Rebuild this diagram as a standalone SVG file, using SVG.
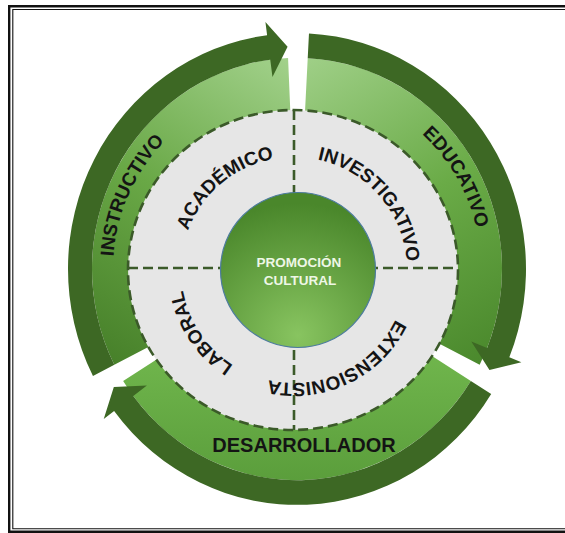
<svg xmlns="http://www.w3.org/2000/svg" xmlns:xlink="http://www.w3.org/1999/xlink" width="565" height="533" viewBox="0 0 565 533">
  <style>
    .dark { fill: #3d6824; }
    .lbl { font-family: "Liberation Sans", Arial, sans-serif; font-weight: bold; fill: #141414; }
    .ring-lbl { font-size: 19px; }
    .dash { fill: none; stroke: #3b5a29; stroke-width: 2.6; stroke-dasharray: 10 5; }
  </style>
  <defs>
    <linearGradient id="gInst" gradientUnits="userSpaceOnUse" x1="-10" y1="-205" x2="-190" y2="95">
      <stop offset="0" stop-color="#a2d18b"/>
      <stop offset="0.5" stop-color="#69a846"/>
      <stop offset="1" stop-color="#467f29"/>
    </linearGradient>
    <linearGradient id="gEdu" gradientUnits="userSpaceOnUse" x1="10" y1="-205" x2="185" y2="95">
      <stop offset="0" stop-color="#9fcf87"/>
      <stop offset="0.5" stop-color="#6aab47"/>
      <stop offset="1" stop-color="#4a882c"/>
    </linearGradient>
    <linearGradient id="gDes" gradientUnits="userSpaceOnUse" x1="0" y1="70" x2="0" y2="210">
      <stop offset="0" stop-color="#72b84e"/>
      <stop offset="1" stop-color="#5a9d3b"/>
    </linearGradient>
    <radialGradient id="gCenter" cx="0.5" cy="0.92" r="0.85">
      <stop offset="0" stop-color="#88c460"/>
      <stop offset="1" stop-color="#4a872b"/>
    </radialGradient>
    <path id="pAcad" d="M 182.72 289.62 A 113 113 0 0 1 332.65 163.81"/>
    <path id="pInv" d="M 272.44 159.08 A 113 113 0 0 1 400.84 306.79"/>
    <path id="pExt" d="M 406.65 278.87 A 113 113 0 0 1 230.00 363.12"/>
    <path id="pLab" d="M 301.88 382.73 A 113 113 0 0 1 192.44 220.46"/>
    <path id="pInst" d="M 148.14 377.16 A 184 184 0 0 1 277.77 86.01"/>
    <path id="pEdu" d="M 297 85 A 184 184 0 0 1 456.35 361"/>
  </defs>

  <rect width="565" height="533" fill="#ffffff"/>

  <g id="frame" fill="none" stroke="#111">
    <path d="M 575 6.2 L 9.2 6.2 L 9.2 531.8 L 575 531.8" stroke-width="2.4"/>
    <path d="M 575 9.5 L 12.8 9.5 L 12.8 528.8 L 575 528.8" stroke-width="1.1"/>
  </g>

  <g transform="translate(297,269) scale(1,1.03)">
    <g id="arrow-instructivo">
      <path fill="url(#gInst)" d="M -182.66 93.07 A 205 205 0 0 1 -8.94 -204.80 L -6.10 -139.86 A 140 140 0 0 0 -124.74 63.56 Z"/>
      <path class="dark" d="M -204.04 103.97 A 229 229 0 0 1 -29.88 -227.03 L -31.58 -239.92 L -9.42 -215.78 L -24.53 -186.38 L -26.75 -203.24 A 205 205 0 0 0 -182.66 93.07 Z"/>
    </g>
    <g id="arrow-educativo">
      <path fill="url(#gEdu)" d="M 10.72 -204.71 A 205 205 0 0 1 182.66 93.07 L 124.74 63.56 A 140 140 0 0 0 7.32 -139.80 Z"/>
      <path class="dark" d="M 11.98 -228.68 A 229 229 0 0 1 212.33 85.78 L 224.38 90.65 L 192.46 98.06 L 174.31 70.42 L 190.08 76.79 A 205 205 0 0 0 10.72 -204.71 Z"/>
    </g>
    <g id="arrow-desarrollador">
      <path fill="url(#gDes)" d="M 173.84 108.63 A 205 205 0 0 1 -173.84 108.63 L -118.72 74.19 A 140 140 0 0 0 118.72 74.19 Z"/>
      <path class="dark" d="M 194.19 121.35 A 229 229 0 0 1 -182.88 137.81 L -193.26 145.64 L -183.17 114.46 L -150.14 113.14 L -163.71 123.37 A 205 205 0 0 0 173.84 108.63 Z"/>
    </g>
  </g>

  <g id="ring">
    <ellipse cx="293" cy="270" rx="165" ry="160" fill="#e6e6e6"/>
    <ellipse class="dash" cx="293" cy="270" rx="165" ry="160"/>
  </g>

  <g id="connectors">
    <line class="dash" x1="294" y1="110" x2="294" y2="430"/>
    <line class="dash" x1="128" y1="268" x2="458" y2="268"/>
  </g>

  <g id="center-node">
    <circle cx="298" cy="270" r="77.5" fill="url(#gCenter)" stroke="#4d7c9e" stroke-width="1.2"/>
    <text class="lbl" x="299" y="267" font-size="13.5" fill="#eef7e6" style="fill:#eef7e6" text-anchor="middle">PROMOCIÓN</text>
    <text class="lbl" x="300" y="284.5" font-size="13.5" style="fill:#eef7e6" text-anchor="middle">CULTURAL</text>
  </g>

  <g id="node-academico">
    <text class="lbl ring-lbl"><textPath href="#pAcad" xlink:href="#pAcad" startOffset="50%" text-anchor="middle">ACADÉMICO</textPath></text>
  </g>
  <g id="node-investigativo">
    <text class="lbl ring-lbl"><textPath href="#pInv" xlink:href="#pInv" startOffset="50%" text-anchor="middle">INVESTIGATIVO</textPath></text>
  </g>
  <g id="node-extensionista">
    <text class="lbl ring-lbl"><textPath href="#pExt" xlink:href="#pExt" startOffset="50%" text-anchor="middle">EXTENSIONISTA</textPath></text>
  </g>
  <g id="node-laboral">
    <text class="lbl ring-lbl"><textPath href="#pLab" xlink:href="#pLab" startOffset="50%" text-anchor="middle">LABORAL</textPath></text>
  </g>

  <g id="label-instructivo">
    <text class="lbl ring-lbl"><textPath href="#pInst" xlink:href="#pInst" startOffset="50%" text-anchor="middle">INSTRUCTIVO</textPath></text>
  </g>
  <g id="label-educativo">
    <text class="lbl ring-lbl"><textPath href="#pEdu" xlink:href="#pEdu" startOffset="50%" text-anchor="middle">EDUCATIVO</textPath></text>
  </g>
  <g id="label-desarrollador">
    <text class="lbl" x="304" y="452" font-size="20" text-anchor="middle">DESARROLLADOR</text>
  </g>
</svg>
